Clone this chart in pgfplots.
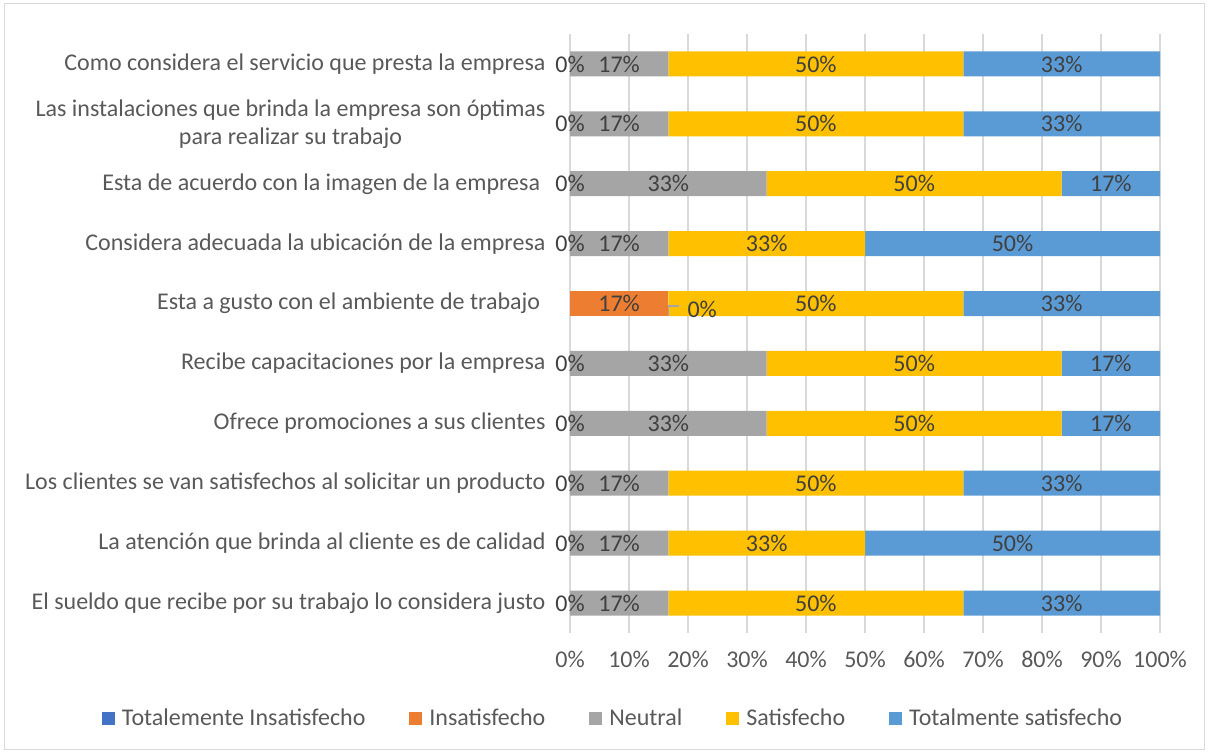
\documentclass[border=0pt]{standalone}
\usepackage{pgfplots}
\pgfplotsset{compat=1.18}
\usepackage{pgfplotstable}
\usepackage{fontspec}
\setmainfont{Carlito}

\definecolor{cTI}{HTML}{4472C4}
\definecolor{cIN}{HTML}{ED7D31}
\definecolor{cNE}{HTML}{A5A5A5}
\definecolor{cSA}{HTML}{FFC000}
\definecolor{cTS}{HTML}{5B9BD5}
\definecolor{txt}{HTML}{595959}
\definecolor{lbl}{HTML}{404040}
\definecolor{grd}{HTML}{D9D9D9}

% y = row (0 = bottom), values in percent
\pgfplotstableread{
y  ti in  ne    sa    ts
0  0  0   16.67 50.00 33.33
1  0  0   16.67 33.33 50.00
2  0  0   16.67 50.00 33.33
3  0  0   33.33 50.00 16.67
4  0  0   33.33 50.00 16.67
5  0  16.67 0   50.00 33.33
6  0  0   16.67 33.33 50.00
7  0  0   33.33 50.00 16.67
8  0  0   16.67 50.00 33.33
9  0  0   16.67 50.00 33.33
}\datatab

% data labels: centre of each segment
\pgfplotstableread{
x     y    lab
0     0    0\%
8.33  0    17\%
41.67 0    50\%
83.33 0    33\%
0     1    0\%
8.33  1    17\%
33.33 1    33\%
75.00 1    50\%
0     2    0\%
8.33  2    17\%
41.67 2    50\%
83.33 2    33\%
0     3    0\%
16.67 3    33\%
58.33 3    50\%
91.67 3    17\%
0     4    0\%
16.67 4    33\%
58.33 4    50\%
91.67 4    17\%
8.33  5    17\%
22.40 4.9  0\%
41.67 5    50\%
83.33 5    33\%
0     6    0\%
8.33  6    17\%
33.33 6    33\%
75.00 6    50\%
0     7    0\%
16.67 7    33\%
58.33 7    50\%
91.67 7    17\%
0     8    0\%
8.33  8    17\%
41.67 8    50\%
83.33 8    33\%
0     9    0\%
8.33  9    17\%
41.67 9    50\%
83.33 9    33\%
}\labtab

\begin{document}
\begin{tikzpicture}
\path (0,0) rectangle (1208bp,754bp);
\draw[grd,line width=1bp] (4bp,4bp) rectangle (1204bp,750bp);

\pgfplotsset{base/.style={
  at={(570bp,121bp)}, anchor=south west,
  scale only axis, width=590bp, height=599bp,
  xmin=0, xmax=100, ymin=-0.5, ymax=9.5,
  axis line style={draw=none},
  tick style={draw=none},
  font=\fontsize{24bp}{28bp}\selectfont,
  /pgf/number format/assume math mode=true,
}}

\begin{axis}[base,
  xbar stacked, bar width=25bp,
  xtick={0,10,...,100},
  xticklabel={\pgfmathprintnumber{\tick}\%},
  xticklabel style={text=txt, yshift=-15bp},
  xmajorgrids, grid style={grd, line width=1.2bp},
  ytick={0,...,9},
  yticklabels={
    El sueldo que recibe por su trabajo lo considera justo,
    La atención que brinda al cliente es de calidad,
    Los clientes se van satisfechos al solicitar un producto,
    Ofrece promociones a sus clientes,
    Recibe capacitaciones por la empresa,
    Esta a gusto con el ambiente de trabajo\ ,
    Considera adecuada la ubicación de la empresa,
    Esta de acuerdo con la imagen de la empresa\ ,
    {Las instalaciones que brinda la empresa son óptimas\\para realizar su trabajo},
    Como considera el servicio que presta la empresa},
  yticklabel style={text=txt, align=center, xshift=-21bp},
  legend columns=-1,
  legend style={at={(0.0729,-0.142)}, anchor=center, draw=none, fill=none,
    font=\fontsize{24bp}{28bp}\selectfont, text=txt,
    /tikz/every odd column/.append style={column sep=5bp},
    /tikz/every even column/.append style={column sep=42bp}},
  legend image code/.code={\fill[#1] (0bp,-6.5bp) rectangle (13bp,6.5bp);},
]
\addplot[fill=cTI, draw=none] table[x=ti, y=y] {\datatab};
\addlegendentry{Totalemente Insatisfecho}
\addplot[fill=cIN, draw=none] table[x=in, y=y] {\datatab};
\addlegendentry{Insatisfecho}
\addplot[fill=cNE, draw=none] table[x=ne, y=y] {\datatab};
\addlegendentry{Neutral}
\addplot[fill=cSA, draw=none] table[x=sa, y=y] {\datatab};
\addlegendentry{Satisfecho}
\addplot[fill=cTS, draw=none] table[x=ts, y=y] {\datatab};
\addlegendentry{Totalmente satisfecho}
\end{axis}

\begin{axis}[base, xtick=\empty, ytick=\empty]
\addplot[cNE, line width=1.5bp] coordinates {(16.67,4.80) (16.67,4.955) (18.5,4.955)};
\addplot[only marks, mark=none, nodes near coords,
  point meta=explicit symbolic,
  every node near coord/.style={anchor=center, text=lbl,
    font=\fontsize{24bp}{28bp}\selectfont}]
  table[x=x, y=y, meta=lab] {\labtab};
\end{axis}
\end{tikzpicture}
\end{document}
